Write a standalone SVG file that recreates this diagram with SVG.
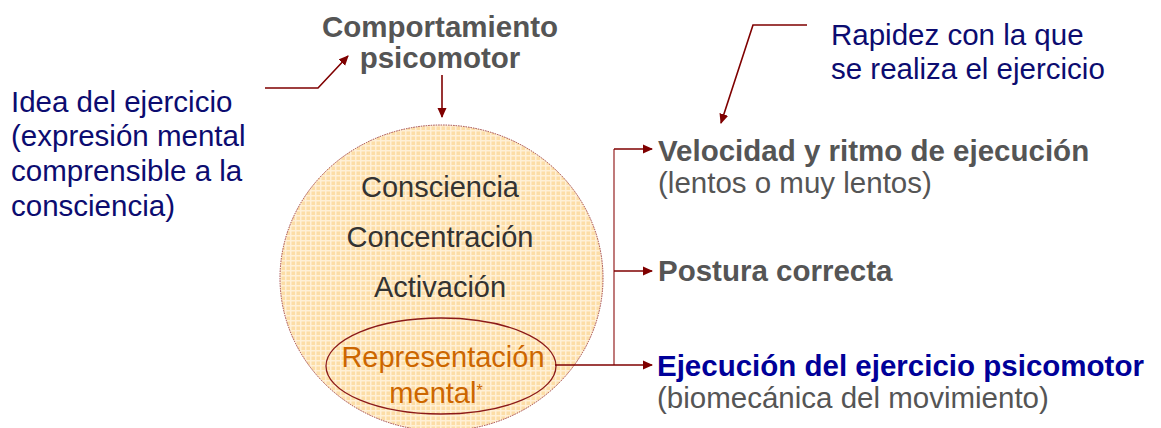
<svg xmlns="http://www.w3.org/2000/svg" width="1161" height="428" viewBox="0 0 1161 428">
<defs>
<pattern id="grid" width="5" height="5" patternUnits="userSpaceOnUse">
<rect width="5" height="5" fill="#FCDDA6"/>
<rect x="0" y="0" width="5" height="1.5" fill="#FFF0D6"/>
<rect x="0" y="0" width="1.5" height="5" fill="#FFF0D6"/>
</pattern>
<marker id="arr" markerWidth="10" markerHeight="10" refX="9" refY="5" orient="auto" markerUnits="userSpaceOnUse">
<path d="M0,0.5 L10,5 L0,9.5 Z" fill="#7F0000"/>
</marker>
<style>
.conn{fill:none;stroke:#7F0000;stroke-width:1.6}
.bracket{fill:none;stroke:#B05858;stroke-width:1.6}
.sans{font-family:"Liberation Sans",Arial,sans-serif}
.navy{fill:#0C0C70;font-size:29.5px}
.gray{fill:#333333;font-size:29px}
.bgray{fill:#555555;font-weight:bold;font-size:29.5px}
.rgray{fill:#555555;font-size:29.5px}
</style>
</defs>
<rect width="1161" height="428" fill="#FFFFFF"/>

<g id="circle">
<ellipse cx="441.5" cy="278" rx="161.5" ry="153" fill="url(#grid)" stroke="#A04040" stroke-width="1" stroke-dasharray="1.5,1"/>
<text class="sans gray" x="440" y="197" text-anchor="middle">Consciencia</text>
<text class="sans gray" x="440" y="247" text-anchor="middle">Concentración</text>
<text class="sans gray" x="440" y="297" text-anchor="middle">Activación</text>
</g>

<g id="representacion">
<ellipse cx="441" cy="366" rx="115" ry="48" fill="none" stroke="#8B1A1A" stroke-width="1.3"/>
<text class="sans" x="443" y="367" text-anchor="middle" fill="#CC6600" font-size="29">Representación</text>
<text class="sans" x="436" y="403" text-anchor="middle" fill="#CC6600" font-size="29">mental<tspan font-size="16" dy="-7">*</tspan></text>
</g>

<g id="comportamiento">
<text class="sans" x="440" y="37" text-anchor="middle" fill="#555555" font-weight="bold" font-size="29.5">Comportamiento</text>
<text class="sans" x="440" y="68" text-anchor="middle" fill="#555555" font-weight="bold" font-size="29.5">psicomotor</text>
</g>

<g id="idea">
<text class="sans navy" x="11" y="112">Idea del ejercicio</text>
<text class="sans navy" x="11" y="146">(expresión mental</text>
<text class="sans navy" x="11" y="181">comprensible a la</text>
<text class="sans navy" x="11" y="216">consciencia)</text>
</g>

<g id="rapidez">
<text class="sans navy" x="831" y="45">Rapidez con la que</text>
<text class="sans navy" x="831" y="79">se realiza el ejercicio</text>
</g>

<g id="velocidad">
<text class="sans bgray" x="658" y="161">Velocidad y ritmo de ejecución</text>
<text class="sans rgray" x="658" y="193">(lentos o muy lentos)</text>
</g>

<g id="postura">
<text class="sans bgray" x="658" y="281">Postura correcta</text>
</g>

<g id="ejecucion">
<text class="sans" x="657" y="376" fill="#000099" font-weight="bold" font-size="29.5">Ejecución del ejercicio psicomotor</text>
<text class="sans rgray" x="657" y="408">(biomecánica del movimiento)</text>
</g>

<g id="connectors">
<path class="conn" d="M442,75 L442,117" marker-end="url(#arr)"/>
<path class="conn" d="M265,88 L318,88 L348,56" marker-end="url(#arr)"/>
<path class="conn" d="M807,25 L753,25 L721,123" marker-end="url(#arr)"/>
<path class="bracket" d="M614,149 L614,365"/>
<path class="conn" d="M614,149 L652,149" marker-end="url(#arr)"/>
<path class="conn" d="M614,271 L652,271" marker-end="url(#arr)"/>
<path class="conn" d="M555,365 L652,365" marker-end="url(#arr)"/>
</g>
</svg>
